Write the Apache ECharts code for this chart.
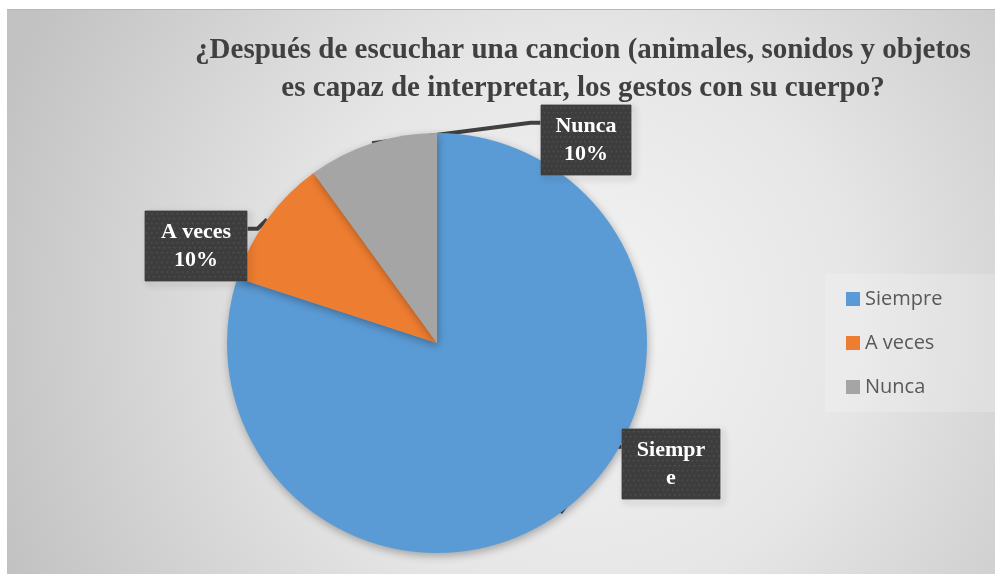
<!DOCTYPE html>
<html>
<head>
<meta charset="utf-8">
<script src="https://cdn.jsdelivr.net/npm/echarts@6/dist/echarts.min.js"></script>
<style>
  html, body { margin: 0; padding: 0; background: #fff; }
  #chart {
    position: absolute;
    left: 7px;
    top: 9px;
    width: 988px;
    height: 565px;
    border-top: 1px solid #b8b8b8;
    box-sizing: border-box;
  }
</style>
</head>
<body>
<div id="chart"></div>
<script>
// data
const categories = ['Siempre', 'A veces', 'Nunca']
const values = [80, 10, 10]
const colors = ['#5b9bd5', '#ed7d31', '#a5a5a5']
const titleText = '¿Después de escuchar una cancion (animales, sonidos y objetos\nes capaz de interpretar, los gestos con su cuerpo?'

// where the callout boxes sit (box centre x, box top y)
const calloutPos = {
  'Siempre': { x: 664, y: 419, width: 72 },
  'A veces': { x: 189, y: 201, width: 76 },
  'Nunca': { x: 579, y: 95, width: 64 }
}

// dotted dark fill used by the callout boxes
const makeDots = () => {
  const c = document.createElement('canvas')
  c.width = 100
  c.height = 72
  const ctx = c.getContext('2d')
  ctx.fillStyle = '#3d3d3d'
  ctx.fillRect(0, 0, c.width, c.height)
  ctx.fillStyle = '#555555'
  for (let y = 2; y < c.height; y += 5) {
    for (let x = (y % 10 === 2 ? 1 : 3); x < c.width; x += 5) {
      ctx.fillRect(x, y, 1.5, 1.5)
    }
  }
  return c
}
const dots = makeDots()

const chart = echarts.init(document.getElementById('chart'))

const option = {
  backgroundColor: {
    type: 'radial',
    x: 0.58,
    y: 0.55,
    r: 1.1,
    colorStops: [
      { offset: 0, color: '#f4f4f4' },
      { offset: 0.45, color: '#e6e6e6' },
      { offset: 1, color: '#c2c2c2' }
    ]
  },
  title: {
    text: titleText,
    left: 571,
    top: 17,
    textAlign: 'center',
    textStyle: {
      fontFamily: 'Liberation Serif',
      fontWeight: 'bold',
      fontSize: 29,
      lineHeight: 38,
      color: '#404040'
    }
  },
  legend: {
    orient: 'vertical',
    left: 818,
    top: 264,
    padding: [15, 80, 15, 21],
    backgroundColor: 'rgba(255,255,255,0.2)',
    itemWidth: 14,
    itemHeight: 14,
    itemGap: 24,
    icon: 'rect',
    data: categories,
    textStyle: {
      fontFamily: 'Open Sans',
      fontSize: 20,
      color: '#595959'
    }
  },
  series: [{
    type: 'pie',
    center: [430, 333],
    radius: 210,
    startAngle: 90,
    clockwise: true,
    animation: false,
    itemStyle: {
      shadowBlur: 8,
      shadowColor: 'rgba(0,0,0,0.3)',
      shadowOffsetX: 1,
      shadowOffsetY: 3
    },
    label: {
      show: true,
      formatter: (p) => p.name === 'Siempre' ? p.name : p.name + '\n' + Math.round(p.percent) + '%',
      fontFamily: 'Liberation Serif',
      fontWeight: 'bold',
      fontSize: 22,
      lineHeight: 28,
      color: '#fff',
      align: 'center',
      backgroundColor: { image: dots },
      borderColor: '#595959',
      borderWidth: 1,
      padding: [7, 13],
      shadowBlur: 6,
      shadowColor: 'rgba(0,0,0,0.45)',
      shadowOffsetX: 3,
      shadowOffsetY: 3
    },
    labelLine: {
      show: true,
      length: 20,
      length2: 10,
      lineStyle: { color: '#404040', width: 4 }
    },
    labelLayout: (params) => {
      const name = categories[params.dataIndex]
      const pos = calloutPos[name]
      return { x: pos.x, y: pos.y, align: 'center', verticalAlign: 'top' }
    },
    data: categories.map((name, i) => ({
      name: name,
      value: values[i],
      itemStyle: { color: colors[i] },
      label: {
        width: calloutPos[name].width,
        overflow: 'breakAll'
      }
    }))
  }]
}

chart.setOption(option)
</script>
</body>
</html>
